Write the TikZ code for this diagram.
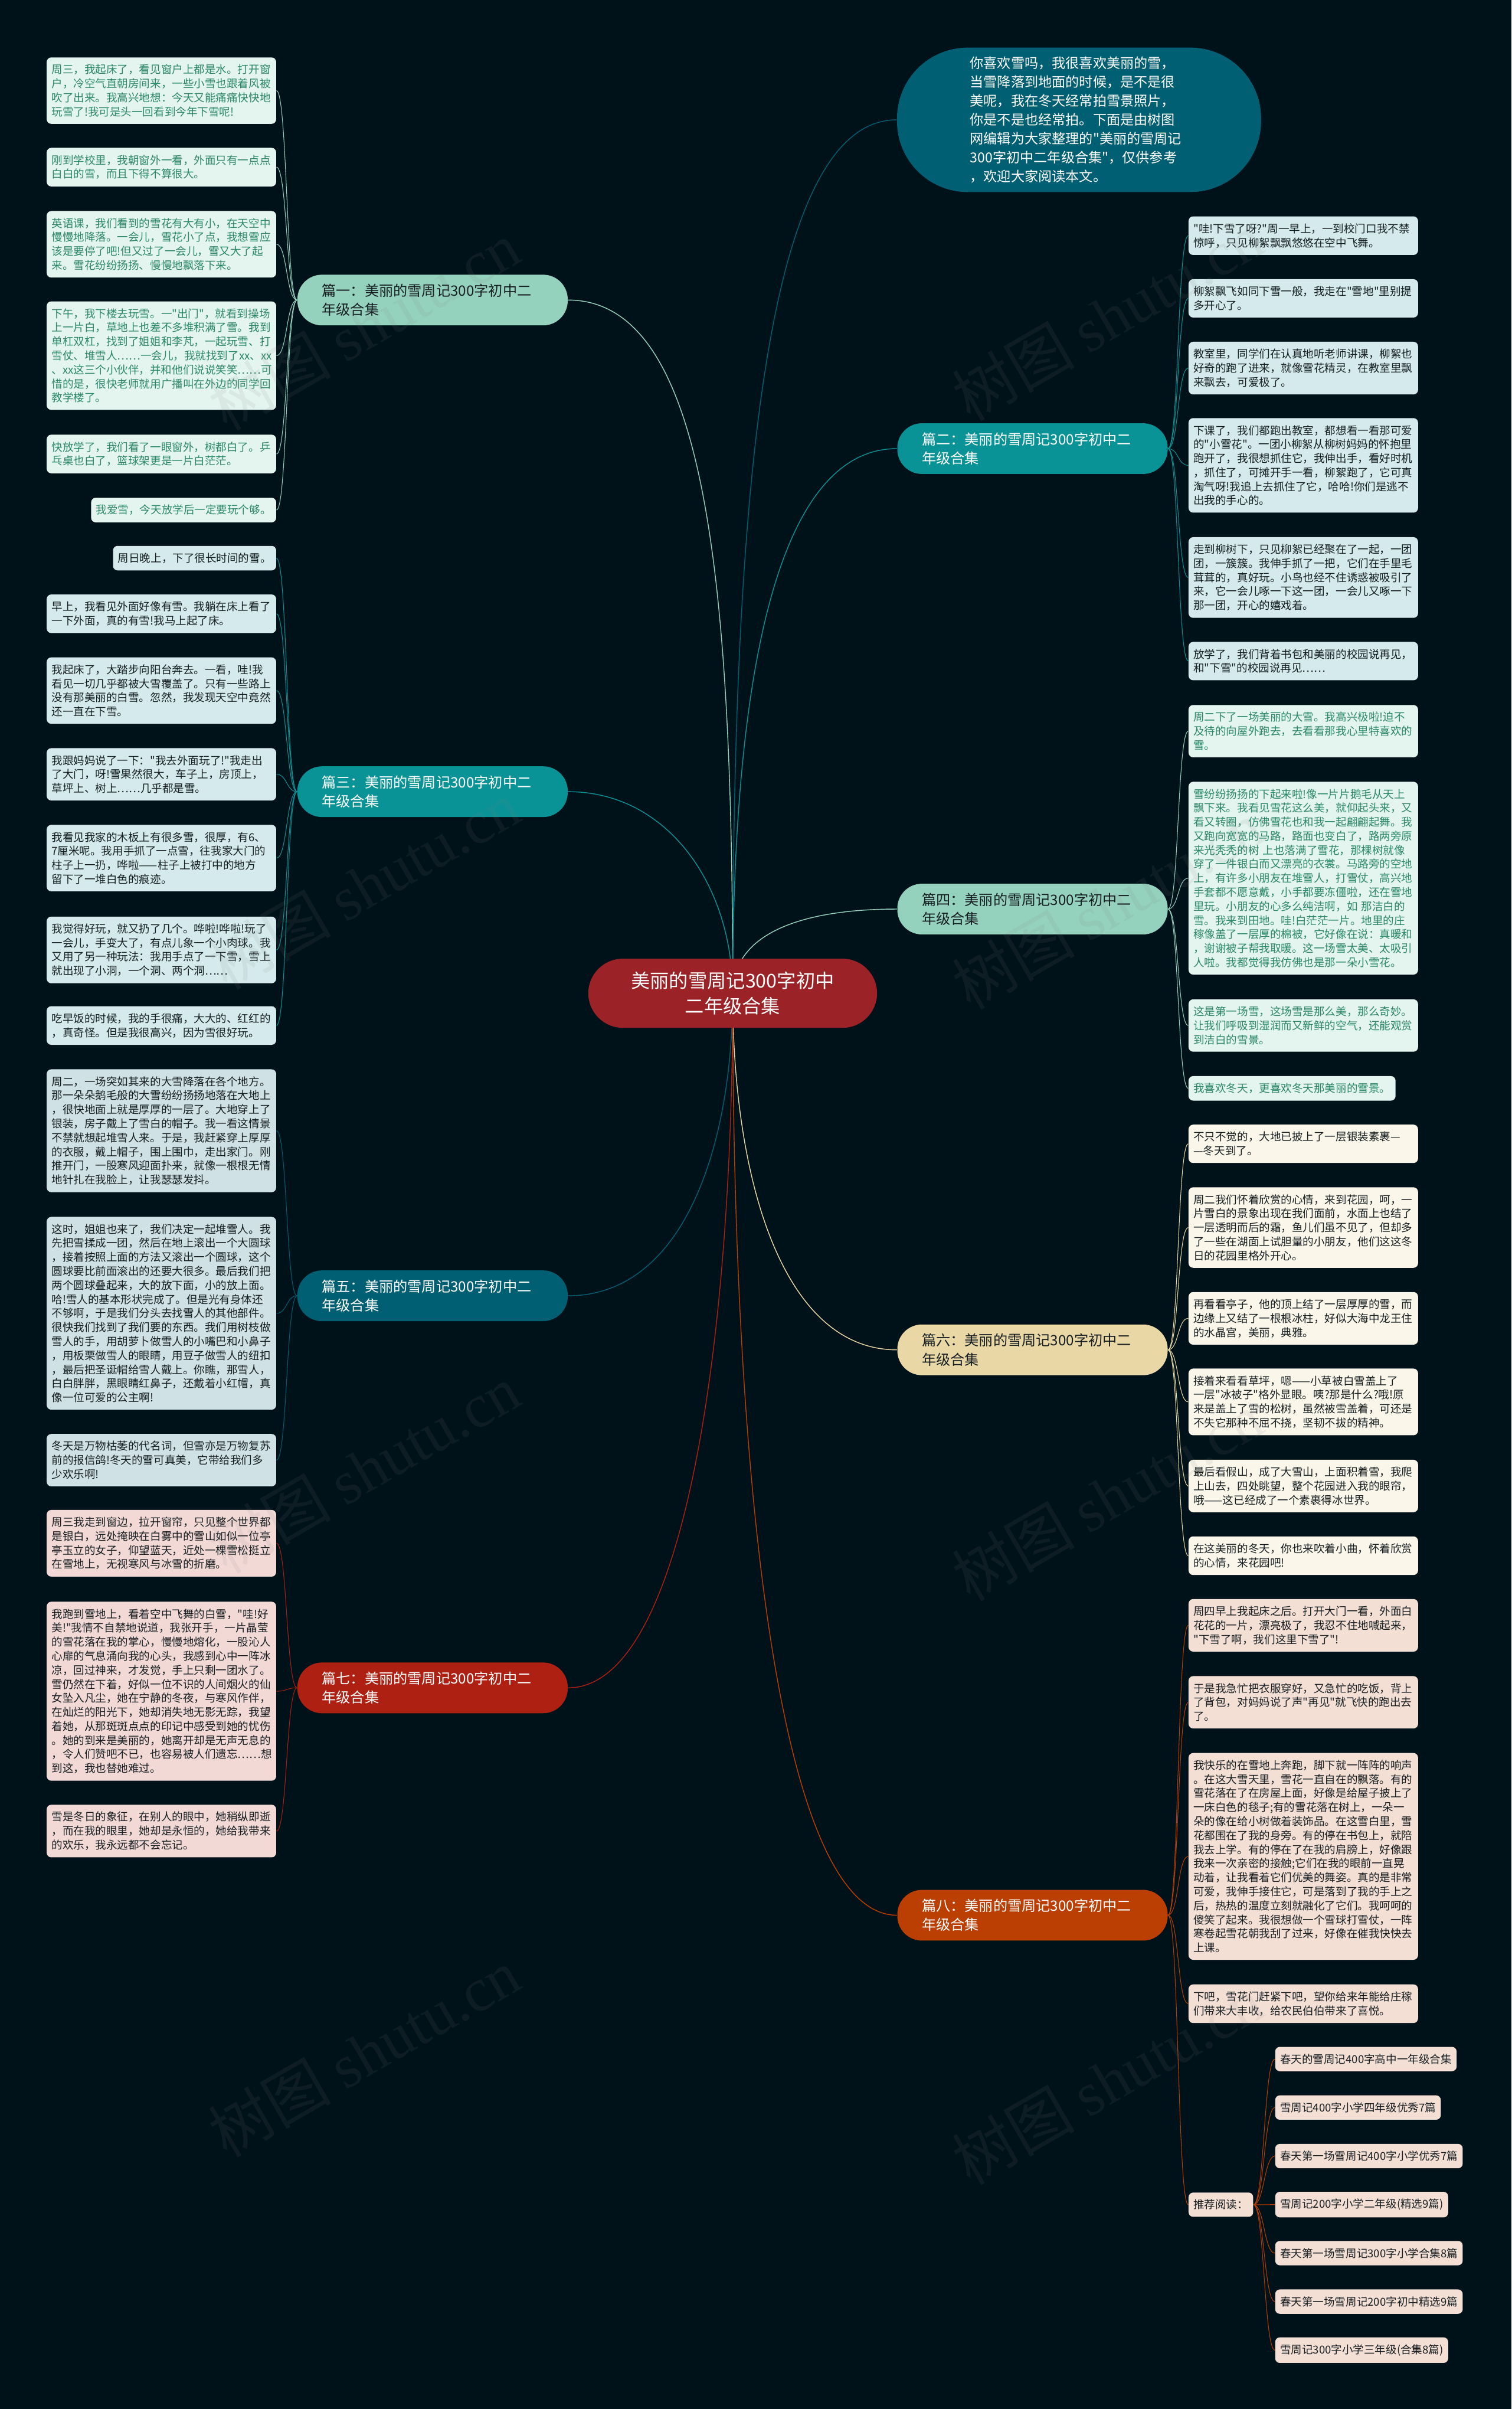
\documentclass[tikz,border=0pt]{standalone}
\usepackage{fontspec}
\newfontfamily\cjkfont{Noto Sans CJK SC}
\newfontfamily\wmlatin{Liberation Serif}

\definecolor{bgnavy}{RGB}{0,18,25}
\definecolor{rootred}{RGB}{155,34,38}
\definecolor{deepteal}{RGB}{0,95,115}
\definecolor{midteal}{RGB}{10,147,150}
\definecolor{mint}{RGB}{148,210,189}
\definecolor{sand}{RGB}{233,216,166}
\definecolor{brick}{RGB}{174,32,18}
\definecolor{rust}{RGB}{187,62,3}
\definecolor{mintleaf}{RGB}{228,244,238}
\definecolor{tealleaf}{RGB}{212,234,236}
\definecolor{navyleaf}{RGB}{207,225,229}
\definecolor{sandleaf}{RGB}{250,246,233}
\definecolor{brickleaf}{RGB}{242,217,214}
\definecolor{rustleaf}{RGB}{244,223,213}
\definecolor{inkdark}{RGB}{22,30,34}
\definecolor{inkgreen}{RGB}{42,135,105}

\pgfdeclarelayer{bg}
\pgfdeclarelayer{links}
\pgfsetlayers{bg,links,main}

\tikzset{
  rootbox/.style={fill=rootred,text=white,rounded corners=22.5pt,minimum width=188pt,
    minimum height=45pt,inner sep=0pt,align=center,font=\cjkfont\fontsize{12.4}{16.6}\selectfont},
  introbox/.style={fill=deepteal,text=white,rounded corners=46pt,minimum width=237pt,
    minimum height=94pt,text width=142pt,inner sep=0pt,align=left,
    font=\cjkfont\fontsize{8.9}{12.3}\selectfont},
  branchbox/.style={rounded corners=16pt,minimum width=176pt,minimum height=33pt,
    text width=144pt,inner xsep=16pt,inner ysep=0pt,align=left,
    font=\cjkfont\fontsize{9.3}{12.3}\selectfont},
  note/.style={rounded corners=3pt,inner xsep=3.2pt,inner ysep=4.6pt,align=left,
    font=\cjkfont\fontsize{7.13}{9.14}\selectfont},
  fullnote/.style={text width=143pt},
  mintnote/.style={note,fill=mintleaf,text=inkgreen},
  tealnote/.style={note,fill=tealleaf,text=inkdark},
  navynote/.style={note,fill=navyleaf,text=inkdark},
  sandnote/.style={note,fill=sandleaf,text=inkdark},
  bricknote/.style={note,fill=brickleaf,text=inkdark},
  rustnote/.style={note,fill=rustleaf,text=inkdark},
  link/.style={line width=0.55pt},
  twig/.style={line width=0.4pt},
  wmark/.style={text=gray,text opacity=0.1,inner sep=0pt,font=\cjkfont\fontsize{40}{40}\selectfont}
}

\begin{document}
\begin{tikzpicture}[x=1pt,y=-1pt,line cap=round,line join=round,font=\cjkfont]
  % Fondo
  \begin{pgfonlayer}{bg}
    \fill[bgnavy] (0,0) rectangle (984,1568);
  \end{pgfonlayer}
  \useasboundingbox (0,0) rectangle (984,1568);

  % Tema central e introduccion
  \node[rootbox] (root) at (477,646.5) {美丽的雪周记300字初中\\二年级合集};
  \node[introbox] (intro) at (702.5,78) {你喜欢雪吗，我很喜欢美丽的雪，\\当雪降落到地面的时候，是不是很\\美呢，我在冬天经常拍雪景照片，\\你是不是也经常拍。下面是由树图\\网编辑为大家整理的"美丽的雪周记\\300字初中二年级合集"，仅供参考\\，欢迎大家阅读本文。};

  % Ramas principales
  \node[branchbox,fill=mint,text=inkdark] (b1) at (281.6,195.3) {篇一：美丽的雪周记300字初中二\\年级合集};
  \node[branchbox,fill=midteal,text=white] (b2) at (672.2,292) {篇二：美丽的雪周记300字初中二\\年级合集};
  \node[branchbox,fill=midteal,text=white] (b3) at (281.6,515.3) {篇三：美丽的雪周记300字初中二\\年级合集};
  \node[branchbox,fill=mint,text=inkdark] (b4) at (672.2,591.7) {篇四：美丽的雪周记300字初中二\\年级合集};
  \node[branchbox,fill=deepteal,text=white] (b5) at (281.6,843.4) {篇五：美丽的雪周记300字初中二\\年级合集};
  \node[branchbox,fill=sand,text=inkdark] (b6) at (672.2,878.6) {篇六：美丽的雪周记300字初中二\\年级合集};
  \node[branchbox,fill=brick,text=white] (b7) at (281.6,1098.6) {篇七：美丽的雪周记300字初中二\\年级合集};
  \node[branchbox,fill=rust,text=white] (b8) at (672.2,1246.6) {篇八：美丽的雪周记300字初中二\\年级合集};

  % Hojas de la rama 1
  \node[mintnote,fullnote,anchor=east] (l1a) at (180,59) {周三，我起床了，看见窗户上都是水。打开窗\\户，冷空气直朝房间来，一些小雪也跟着风被\\吹了出来。我高兴地想：今天又能痛痛快快地\\玩雪了!我可是头一回看到今年下雪呢!};
  \node[mintnote,fullnote,anchor=east] (l1b) at (180,108.8) {刚到学校里，我朝窗外一看，外面只有一点点\\白白的雪，而且下得不算很大。};
  \node[mintnote,fullnote,anchor=east] (l1c) at (180,159) {英语课，我们看到的雪花有大有小，在天空中\\慢慢地降落。一会儿，雪花小了点，我想雪应\\该是要停了吧!但又过了一会儿，雪又大了起\\来。雪花纷纷扬扬、慢慢地飘落下来。};
  \node[mintnote,fullnote,anchor=east] (l1d) at (180,231.5) {下午，我下楼去玩雪。一"出门"，就看到操场\\上一片白，草地上也差不多堆积满了雪。我到\\单杠双杠，找到了姐姐和李芃，一起玩雪、打\\雪仗、堆雪人……一会儿，我就找到了xx、xx\\、xx这三个小伙伴，并和他们说说笑笑……可\\惜的是，很快老师就用广播叫在外边的同学回\\教学楼了。};
  \node[mintnote,fullnote,anchor=east] (l1e) at (180,295.5) {快放学了，我们看了一眼窗外，树都白了。乒\\乓桌也白了，篮球架更是一片白茫茫。};
  \node[mintnote,anchor=east] (l1f) at (180,332) {我爱雪，今天放学后一定要玩个够。};

  % Hojas de la rama 3
  \node[tealnote,anchor=east] (l3a) at (180,363.3) {周日晚上，下了很长时间的雪。};
  \node[tealnote,fullnote,anchor=east] (l3b) at (180,399.5) {早上，我看见外面好像有雪。我躺在床上看了\\一下外面，真的有雪!我马上起了床。};
  \node[tealnote,fullnote,anchor=east] (l3c) at (180,449.5) {我起床了，大踏步向阳台奔去。一看，哇!我\\看见一切几乎都被大雪覆盖了。只有一些路上\\没有那美丽的白雪。忽然，我发现天空中竟然\\还一直在下雪。};
  \node[tealnote,fullnote,anchor=east] (l3d) at (180,504) {我跟妈妈说了一下："我去外面玩了!"我走出\\了大门，呀!雪果然很大，车子上，房顶上，\\草坪上、树上……几乎都是雪。};
  \node[tealnote,fullnote,anchor=east] (l3e) at (180,558.5) {我看见我家的木板上有很多雪，很厚，有6、\\7厘米呢。我用手抓了一点雪，往我家大门的\\柱子上一扔，哗啦——柱子上被打中的地方\\留下了一堆白色的痕迹。};
  \node[tealnote,fullnote,anchor=east] (l3f) at (180,618.3) {我觉得好玩，就又扔了几个。哗啦!哗啦!玩了\\一会儿，手变大了，有点儿象一个小肉球。我\\又用了另一种玩法：我用手点了一下雪，雪上\\就出现了小洞，一个洞、两个洞……};
  \node[tealnote,fullnote,anchor=east] (l3g) at (180,667.5) {吃早饭的时候，我的手很痛，大大的、红红的\\，真奇怪。但是我很高兴，因为雪很好玩。};

  % Hojas de la rama 5
  \node[navynote,fullnote,anchor=east] (l5a) at (180,736) {周二，一场突如其来的大雪降落在各个地方。\\那一朵朵鹅毛般的大雪纷纷扬扬地落在大地上\\，很快地面上就是厚厚的一层了。大地穿上了\\银装，房子戴上了雪白的帽子。我一看这情景\\不禁就想起堆雪人来。于是，我赶紧穿上厚厚\\的衣服，戴上帽子，围上围巾，走出家门。刚\\推开门，一股寒风迎面扑来，就像一根根无情\\地针扎在我脸上，让我瑟瑟发抖。};
  \node[navynote,fullnote,anchor=east] (l5b) at (180,854.8) {这时，姐姐也来了，我们决定一起堆雪人。我\\先把雪揉成一团，然后在地上滚出一个大圆球\\，接着按照上面的方法又滚出一个圆球，这个\\圆球要比前面滚出的还要大很多。最后我们把\\两个圆球叠起来，大的放下面，小的放上面。\\哈!雪人的基本形状完成了。但是光有身体还\\不够啊，于是我们分头去找雪人的其他部件。\\很快我们找到了我们要的东西。我们用树枝做\\雪人的手，用胡萝卜做雪人的小嘴巴和小鼻子\\，用板栗做雪人的眼睛，用豆子做雪人的纽扣\\，最后把圣诞帽给雪人戴上。你瞧，那雪人，\\白白胖胖，黑眼睛红鼻子，还戴着小红帽，真\\像一位可爱的公主啊!};
  \node[navynote,fullnote,anchor=east] (l5c) at (180,950.4) {冬天是万物枯萎的代名词，但雪亦是万物复苏\\前的报信鸽!冬天的雪可真美，它带给我们多\\少欢乐啊!};

  % Hojas de la rama 7
  \node[bricknote,fullnote,anchor=east] (l7a) at (180,1004.5) {周三我走到窗边，拉开窗帘，只见整个世界都\\是银白，远处掩映在白雾中的雪山如似一位亭\\亭玉立的女子，仰望蓝天，近处一棵雪松挺立\\在雪地上，无视寒风与冰雪的折磨。};
  \node[bricknote,fullnote,anchor=east] (l7b) at (180,1100.8) {我跑到雪地上，看着空中飞舞的白雪，"哇!好\\美!"我情不自禁地说道，我张开手，一片晶莹\\的雪花落在我的掌心，慢慢地熔化，一股沁人\\心扉的气息涌向我的心头，我感到心中一阵冰\\凉，回过神来，才发觉，手上只剩一团水了。\\雪仍然在下着，好似一位不识的人间烟火的仙\\女坠入凡尘，她在宁静的冬夜，与寒风作伴，\\在灿烂的阳光下，她却消失地无影无踪，我望\\着她，从那斑斑点点的印记中感受到她的忧伤\\。她的到来是美丽的，她离开却是无声无息的\\，令人们赞吧不已，也容易被人们遗忘……想\\到这，我也替她难过。};
  \node[bricknote,fullnote,anchor=east] (l7c) at (180,1191.8) {雪是冬日的象征，在别人的眼中，她稍纵即逝\\，而在我的眼里，她却是永恒的，她给我带来\\的欢乐，我永远都不会忘记。};

  % Hojas de la rama 2
  \node[tealnote,fullnote,anchor=west] (r2a) at (773.6,153.4) {"哇!下雪了呀?"周一早上，一到校门口我不禁\\惊呼，只见柳絮飘飘悠悠在空中飞舞。};
  \node[tealnote,fullnote,anchor=west] (r2b) at (773.6,194.2) {柳絮飘飞如同下雪一般，我走在"雪地"里别提\\多开心了。};
  \node[tealnote,fullnote,anchor=west] (r2c) at (773.6,239.6) {教室里，同学们在认真地听老师讲课，柳絮也\\好奇的跑了进来，就像雪花精灵，在教室里飘\\来飘去，可爱极了。};
  \node[tealnote,fullnote,anchor=west] (r2d) at (773.6,302.9) {下课了，我们都跑出教室，都想看一看那可爱\\的"小雪花"。一团小柳絮从柳树妈妈的怀抱里\\跑开了，我很想抓住它，我伸出手，看好时机\\，抓住了，可摊开手一看，柳絮跑了，它可真\\淘气呀!我追上去抓住了它，哈哈!你们是逃不\\出我的手心的。};
  \node[tealnote,fullnote,anchor=west] (r2e) at (773.6,375.9) {走到柳树下，只见柳絮已经聚在了一起，一团\\团，一簇簇。我伸手抓了一把，它们在手里毛\\茸茸的，真好玩。小鸟也经不住诱惑被吸引了\\来，它一会儿啄一下这一团，一会儿又啄一下\\那一团，开心的嬉戏着。};
  \node[tealnote,fullnote,anchor=west] (r2f) at (773.6,430.3) {放学了，我们背着书包和美丽的校园说再见，\\和"下雪"的校园说再见……};

  % Hojas de la rama 4
  \node[mintnote,fullnote,anchor=west] (r4a) at (773.6,475.9) {周二下了一场美丽的大雪。我高兴极啦!迫不\\及待的向屋外跑去，去看看那我心里特喜欢的\\雪。};
  \node[mintnote,fullnote,anchor=west] (r4b) at (773.6,571.6) {雪纷纷扬扬的下起来啦!像一片片鹅毛从天上\\飘下来。我看见雪花这么美，就仰起头来，又\\看又转圈，仿佛雪花也和我一起翩翩起舞。我\\又跑向宽宽的马路，路面也变白了，路两旁原\\来光秃秃的树~上也落满了雪花，那棵树就像\\穿了一件银白而又漂亮的衣裳。马路旁的空地\\上，有许多小朋友在堆雪人，打雪仗，高兴地\\手套都不愿意戴，小手都要冻僵啦，还在雪地\\里玩。小朋友的心多么纯洁啊，如~那洁白的\\雪。我来到田地。哇!白茫茫一片。地里的庄\\稼像盖了一层厚的棉被，它好像在说：真暖和\\，谢谢被子帮我取暖。这一场雪太美、太吸引\\人啦。我都觉得我仿佛也是那一朵小雪花。};
  \node[mintnote,fullnote,anchor=west] (r4c) at (773.6,667.5) {这是第一场雪，这场雪是那么美，那么奇妙。\\让我们呼吸到湿润而又新鲜的空气，还能观赏\\到洁白的雪景。};
  \node[mintnote,anchor=west] (r4d) at (773.6,708.4) {我喜欢冬天，更喜欢冬天那美丽的雪景。};

  % Hojas de la rama 6
  \node[sandnote,fullnote,anchor=west] (r6a) at (773.6,744.5) {不只不觉的，大地已披上了一层银装素裹—\\—冬天到了。};
  \node[sandnote,fullnote,anchor=west] (r6b) at (773.6,799) {周二我们怀着欣赏的心情，来到花园，呵，一\\片雪白的景象出现在我们面前，水面上也结了\\一层透明而后的霜，鱼儿们虽不见了，但却多\\了一些在湖面上试胆量的小朋友，他们这这冬\\日的花园里格外开心。};
  \node[sandnote,fullnote,anchor=west] (r6c) at (773.6,858.1) {再看看亭子，他的顶上结了一层厚厚的雪，而\\边缘上又结了一根根冰柱，好似大海中龙王住\\的水晶宫，美丽，典雅。};
  \node[sandnote,fullnote,anchor=west] (r6d) at (773.6,912.5) {接着来看看草坪，嗯——小草被白雪盖上了\\一层"冰被子"格外显眼。咦?那是什么?哦!原\\来是盖上了雪的松树，虽然被雪盖着，可还是\\不失它那种不屈不挠，坚韧不拔的精神。};
  \node[sandnote,fullnote,anchor=west] (r6e) at (773.6,967.2) {最后看假山，成了大雪山，上面积着雪，我爬\\上山去，四处眺望，整个花园进入我的眼帘，\\哦——这已经成了一个素裹得冰世界。};
  \node[sandnote,fullnote,anchor=west] (r6f) at (773.6,1012.6) {在这美丽的冬天，你也来吹着小曲，怀着欣赏\\的心情，来花园吧!};

  % Hojas de la rama 8
  \node[rustnote,fullnote,anchor=west] (r8a) at (773.6,1057.9) {周四早上我起床之后。打开大门一看，外面白\\花花的一片，漂亮极了，我忍不住地喊起来，\\"下雪了啊，我们这里下雪了"!};
  \node[rustnote,fullnote,anchor=west] (r8b) at (773.6,1108) {于是我急忙把衣服穿好，又急忙的吃饭，背上\\了背包，对妈妈说了声"再见"就飞快的跑出去\\了。};
  \node[rustnote,fullnote,anchor=west] (r8c) at (773.6,1208.3) {我快乐的在雪地上奔跑，脚下就一阵阵的响声\\。在这大雪天里，雪花一直自在的飘落。有的\\雪花落在了在房屋上面，好像是给屋子披上了\\一床白色的毯子;有的雪花落在树上，一朵一\\朵的像在给小树做着装饰品。在这雪白里，雪\\花都围在了我的身旁。有的停在书包上，就陪\\我去上学。有的停在了在我的肩膀上，好像跟\\我来一次亲密的接触;它们在我的眼前一直晃\\动着，让我看着它们优美的舞姿。真的是非常\\可爱，我伸手接住它，可是落到了我的手上之\\后，热热的温度立刻就融化了它们。我呵呵的\\傻笑了起来。我很想做一个雪球打雪仗，一阵\\寒卷起雪花朝我刮了过来，好像在催我快快去\\上课。};
  \node[rustnote,fullnote,anchor=west] (r8d) at (773.6,1304.2) {下吧，雪花门赶紧下吧，望你给来年能给庄稼\\们带来大丰收，给农民伯伯带来了喜悦。};

  % Lecturas recomendadas
  \node[rustnote,anchor=west] (rec) at (773.6,1435) {推荐阅读：};
  \foreach \t [count=\k] in {春天的雪周记400字高中一年级合集,雪周记400字小学四年级优秀7篇,
      春天第一场雪周记400字小学优秀7篇,雪周记200字小学二年级(精选9篇),
      春天第一场雪周记300字小学合集8篇,春天第一场雪周记200字初中精选9篇,
      雪周记300字小学三年级(合集8篇)}
    \node[rustnote,anchor=west] (rec\k) at (830,{1340.2+(\k-1)*31.58}) {\t};

  % Conectores
  \begin{pgfonlayer}{links}
    \draw[link,deepteal] (root.center) .. controls +(0,-330) and +(-85,0) .. (intro.west);
    \draw[link,mint] (root.center) .. controls +(0,-270) and +(90,0) .. (b1.east);
    \draw[link,midteal] (root.center) .. controls +(0,-200) and +(-80,0) .. (b2.west);
    \draw[link,midteal] (root.center) .. controls +(0,-70) and +(65,0) .. (b3.east);
    \draw[link,mint] (root.center) .. controls +(0,-40) and +(-60,0) .. (b4.west);
    \draw[link,deepteal] (root.center) .. controls +(0,100) and +(75,0) .. (b5.east);
    \draw[link,sand] (root.center) .. controls +(0,120) and +(-75,0) .. (b6.west);
    \draw[link,brick] (root.center) .. controls +(0,230) and +(75,0) .. (b7.east);
    \draw[link,rust] (root.center) .. controls +(0,300) and +(-80,0) .. (b8.west);

    \foreach \n in {l1a,l1b,l1c,l1d,l1e,l1f}
      \draw[twig,mint] (b1.west) .. controls +(-7,0) and +(7,0) .. (\n.east);
    \foreach \n in {l3a,l3b,l3c,l3d,l3e,l3f,l3g}
      \draw[twig,midteal] (b3.west) .. controls +(-7,0) and +(7,0) .. (\n.east);
    \foreach \n in {l5a,l5b,l5c}
      \draw[twig,deepteal] (b5.west) .. controls +(-7,0) and +(7,0) .. (\n.east);
    \foreach \n in {l7a,l7b,l7c}
      \draw[twig,brick] (b7.west) .. controls +(-7,0) and +(7,0) .. (\n.east);
    \foreach \n in {r2a,r2b,r2c,r2d,r2e,r2f}
      \draw[twig,midteal] (b2.east) .. controls +(7,0) and +(-7,0) .. (\n.west);
    \foreach \n in {r4a,r4b,r4c,r4d}
      \draw[twig,mint] (b4.east) .. controls +(7,0) and +(-7,0) .. (\n.west);
    \foreach \n in {r6a,r6b,r6c,r6d,r6e,r6f}
      \draw[twig,sand] (b6.east) .. controls +(7,0) and +(-7,0) .. (\n.west);
    \foreach \n in {r8a,r8b,r8c,r8d,rec}
      \draw[twig,rust] (b8.east) .. controls +(7,0) and +(-7,0) .. (\n.west);
    \foreach \k in {1,...,7}
      \draw[twig,rust] (rec.east) .. controls +(7,0) and +(-7,0) .. (rec\k.west);
  \end{pgfonlayer}

  % Marca de agua
  \foreach \wx/\wy [count=\w] in {140/268,140/632,140/1012,140/1392,624/262,624/645,624/1030,624/1410}
    \node[wmark,anchor=west,rotate=30] (wm\w) at (\wx,\wy) {树图 {\wmlatin shutu.cn}};
\end{tikzpicture}
\end{document}
